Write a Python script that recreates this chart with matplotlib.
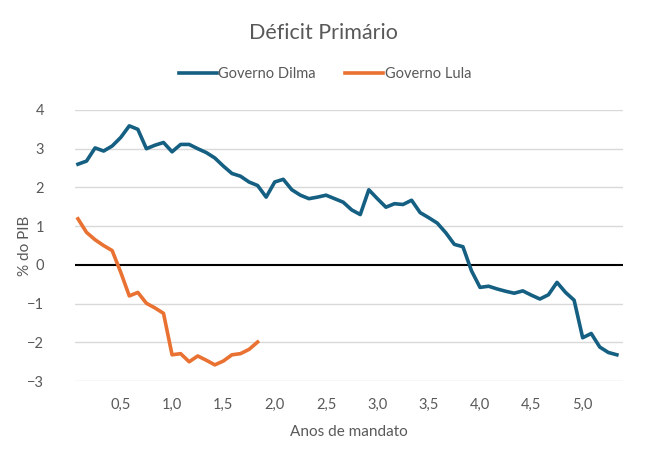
import numpy as np
import matplotlib
matplotlib.use("Agg")
import matplotlib.pyplot as plt

plt.rcParams['font.family'] = ['Lato', 'DejaVu Sans']

# Déficit primário (% do PIB), valores mensais
dilma = [2.60, 2.68, 3.02, 2.94, 3.07, 3.29, 3.59, 3.50, 3.00, 3.09,
         3.16, 2.92, 3.11, 3.11, 3.00, 2.90, 2.76, 2.55, 2.36, 2.29,
         2.14, 2.05, 1.75, 2.14, 2.21, 1.94, 1.80, 1.71, 1.75, 1.80,
         1.71, 1.62, 1.42, 1.30, 1.94, 1.71, 1.49, 1.58, 1.56, 1.67,
         1.35, 1.22, 1.08, 0.83, 0.53, 0.47, -0.15, -0.58, -0.55, -0.62,
         -0.68, -0.73, -0.67, -0.78, -0.88, -0.77, -0.45, -0.71, -0.91, -1.88,
         -1.77, -2.12, -2.26, -2.32]
lula = [1.19, 0.84, 0.65, 0.50, 0.37, -0.19, -0.80, -0.71, -0.99, -1.11,
        -1.25, -2.32, -2.29, -2.50, -2.35, -2.46, -2.58, -2.48, -2.32, -2.29,
        -2.18, -1.99]

x_dilma = np.arange(1, len(dilma) + 1) / 12
x_lula = np.arange(1, len(lula) + 1) / 12

xticks = [0.5, 1.0, 1.5, 2.0, 2.5, 3.0, 3.5, 4.0, 4.5, 5.0]
xtick_labels = ['0,5', '1,0', '1,5', '2,0', '2,5', '3,0', '3,5', '4,0', '4,5', '5,0']
yticks = [-3, -2, -1, 0, 1, 2, 3, 4]

cinza = '#595959'

fig = plt.figure(figsize=(6.5, 4.62), dpi=100)
ax = fig.add_axes([0.115, 0.175, 0.843, 0.587])

for y in yticks:
    if y != 0:
        ax.axhline(y, color='#d9d9d9', lw=1.0, zorder=0)
ax.axhline(0, color='black', lw=1.5, zorder=1)

ax.plot(x_dilma, dilma, color='#156082', lw=2.6, label='Governo Dilma',
        solid_joinstyle='round', zorder=3)
ax.plot(x_lula, lula, color='#E97132', lw=2.6, label='Governo Lula',
        solid_joinstyle='round', zorder=3)

ax.set_xlim(0.052, 5.39)
ax.set_ylim(-3, 4)
ax.set_xticks(xticks)
ax.set_xticklabels(xtick_labels)
ax.set_yticks(yticks)
ax.tick_params(axis='both', length=0, labelsize=10.5, colors=cinza)
ax.tick_params(axis='x', pad=12)
ax.tick_params(axis='y', pad=22)
for s in ax.spines.values():
    s.set_visible(False)

ax.set_xlabel('Anos de mandato', fontsize=11, color=cinza)
ax.xaxis.set_label_coords(0.5, -0.16)
ax.set_ylabel('% do PIB', fontsize=11, color=cinza)
ax.yaxis.set_label_coords(-0.078, 0.5)

fig.text(0.497, 0.928, 'Déficit Primário', ha='center', va='center',
         fontsize=15.5, color=cinza)
fig.legend(loc='center', bbox_to_anchor=(0.5, 0.84), ncol=2, frameon=False,
           fontsize=10.5, handlelength=2.6, handletextpad=0.1, columnspacing=2.0,
           labelcolor=cinza)

fig.savefig('out.png', dpi=100, facecolor='white')
